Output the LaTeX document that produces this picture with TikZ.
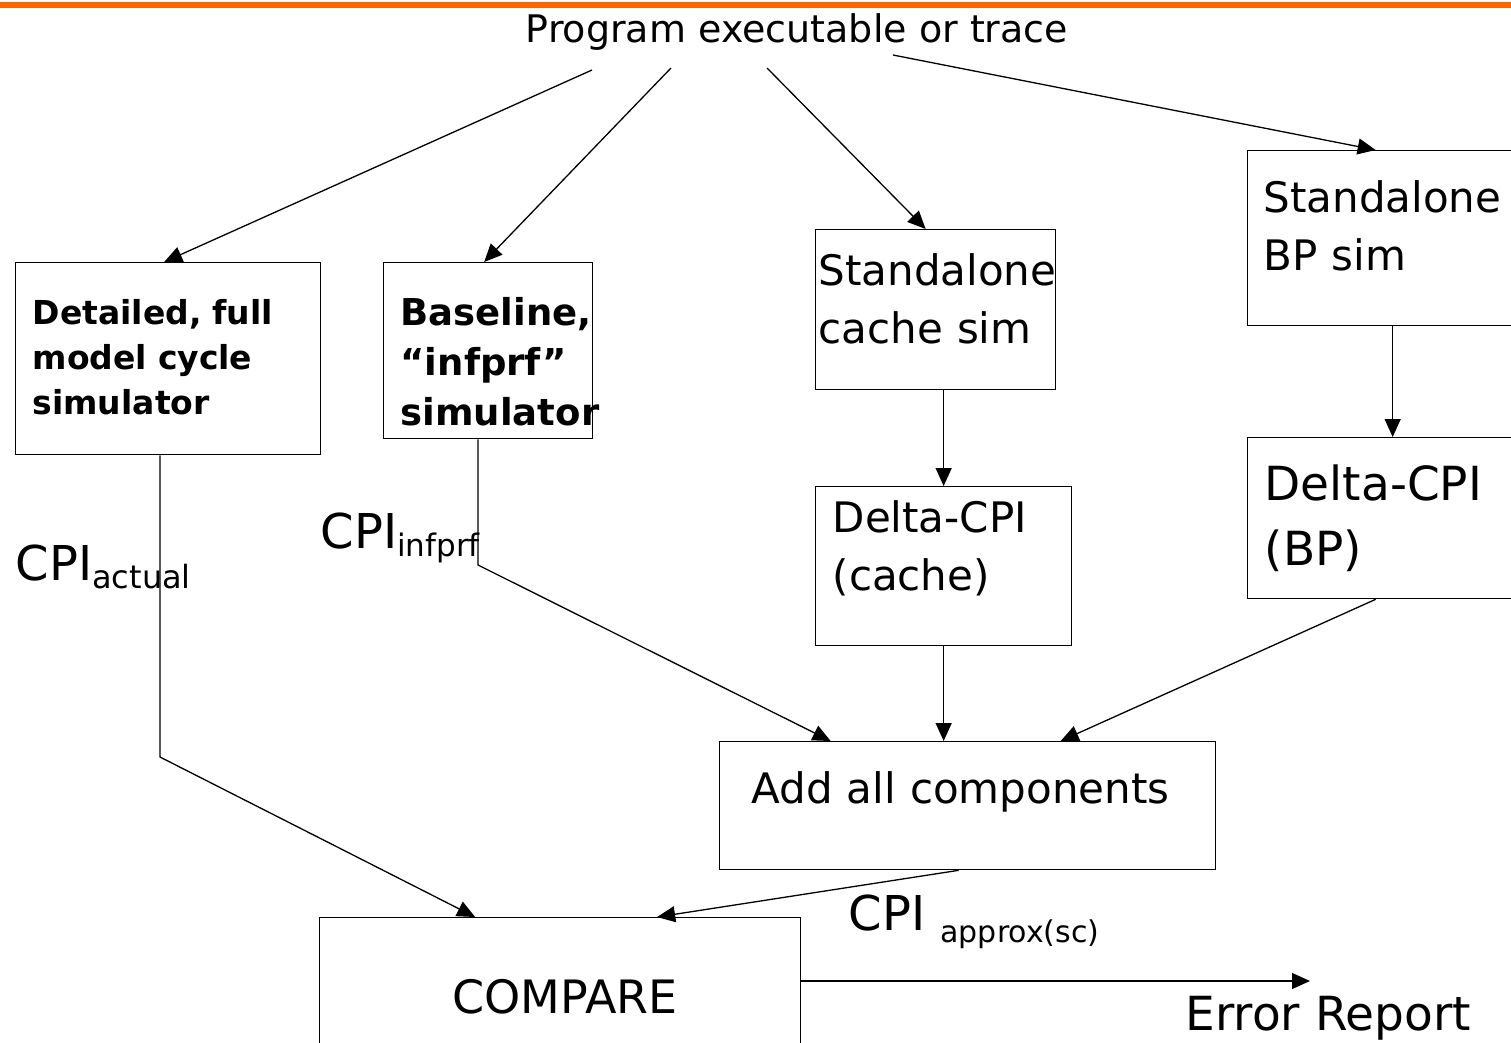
\documentclass[tikz,border=0pt]{standalone}
\usepackage{fontspec}
\setmainfont{DejaVu Sans}
\usepackage{xcolor}
\usepackage{tikz}
\usetikzlibrary{arrows.meta, positioning, calc}
\definecolor{bandorange}{RGB}{255,102,0}

\begin{document}
\begin{tikzpicture}[
    x=1pt, y=-1pt,
    >={Triangle[length=18pt, width=16pt]},
    line width=1.3pt,
    simbox/.style={draw, anchor=north west, align=left, inner ysep=0pt, inner xsep=17pt},
    cpi/.style={anchor=base west, inner sep=0pt}
]
    \useasboundingbox (0,0) rectangle (1511,1042);
    \clip (0,0) rectangle (1511,1042);

    % Top band
    \fill[bandorange] (0,2) rectangle (1511,8);

    % Input
    \node[anchor=base, inner sep=0pt, font=\fontsize{38}{44}\selectfont] (prog) at (797,42) {Program executable or trace};
    \coordinate (tap1) at (592,70);
    \coordinate (tap2) at (671,68);
    \coordinate (tap3) at (767,68);
    \coordinate (tap4) at (893,55);

    % Simulators
    \node[simbox, text width=271pt, text height=62pt, text depth=130pt, font=\fontsize{33}{45}\selectfont\bfseries] (detailed) at (15,262) {Detailed, full\\model cycle\\simulator};
    \node[simbox, text width=175pt, text height=63pt, text depth=113pt, font=\fontsize{37}{50}\selectfont\bfseries] (baseline) at (383,262) {Baseline,\\“infprf”\\simulator};
    \node[simbox, inner xsep=3pt, text width=234pt, text height=56pt, text depth=104pt, font=\fontsize{42}{58}\selectfont] (cachesim) at (815,229) {Standalone\\cache sim};
    \node[simbox, inner xsep=16pt, text width=258pt, text height=62pt, text depth=113pt, font=\fontsize{42}{58}\selectfont] (bpsim) at (1247,150) {Standalone\\BP sim};

    % Delta CPI
    \node[simbox, text width=222pt, text height=46pt, text depth=113pt, font=\fontsize{42}{58}\selectfont] (cachedelta) at (815,486) {Delta-CPI\\(cache)};
    \node[simbox, text width=256pt, text height=63pt, text depth=98pt, font=\fontsize{47}{65}\selectfont] (bpdelta) at (1247,437) {Delta-CPI\\(BP)};

    % Sum and compare
    \node[simbox, inner xsep=32pt, text width=432pt, text height=62pt, text depth=66pt, font=\fontsize{42}{50}\selectfont] (addall) at (719,741) {Add all components};
    \node[simbox, inner xsep=133pt, text width=215pt, text height=96pt, text depth=120pt, font=\fontsize{46}{50}\selectfont] (compare) at (319,917) {COMPARE};
    \node[cpi, font=\fontsize{47}{50}\selectfont] (errrep) at (1185,1030) {Error Report};
    \coordinate (reportend) at (1310,981);

    % CPI labels
    \node[cpi] (cpiactual) at (15,580) {\fontsize{48}{50}\selectfont CPI\raisebox{-8pt}{\fontsize{32}{34}\selectfont actual}};
    \node[cpi] (cpiinfprf) at (320,548) {\fontsize{48}{50}\selectfont CPI\raisebox{-8pt}{\fontsize{31}{34}\selectfont infprf}};
    \node[cpi] (cpiapprox) at (848,930) {\fontsize{48}{50}\selectfont CPI \raisebox{-12pt}{\fontsize{30}{34}\selectfont approx(sc)}};
    \coordinate (actbend) at (160,757);
    \coordinate (infbend) at (478,565);

    % Program to simulators
    \draw[->] (tap1) -- ([xshift=-4pt]detailed.north);
    \draw[->] (tap2) -- ([xshift=-4pt]baseline.north);
    \draw[->] (tap3) -- ([xshift=-10pt]cachesim.north);
    \draw[->] (tap4) -- ([xshift=-17pt]bpsim.north);

    % Simulators to delta
    \draw[->] (cachedelta.north |- cachesim.south) -- (cachedelta.north);
    \draw[->] (bpsim.south) -- (bpdelta.north);

    % Into the sum
    \draw[->] (cachedelta.south) -- (cachedelta.south |- addall.north);
    \draw[->] ([xshift=-17pt]bpdelta.south) -- ([xshift=93pt]addall.north);
    \draw[->] (baseline.south -| infbend) -- (infbend) -- ([xshift=-137pt]addall.north);

    % Into compare
    \draw[->] (detailed.south -| actbend) -- (actbend) -- ([xshift=-85pt]compare.north);
    \draw[->] ([xshift=-9pt]addall.south) -- ([xshift=97pt]compare.north);
    \draw[->] ([yshift=-64pt]compare.north east) -- (reportend);
\end{tikzpicture}
\end{document}
